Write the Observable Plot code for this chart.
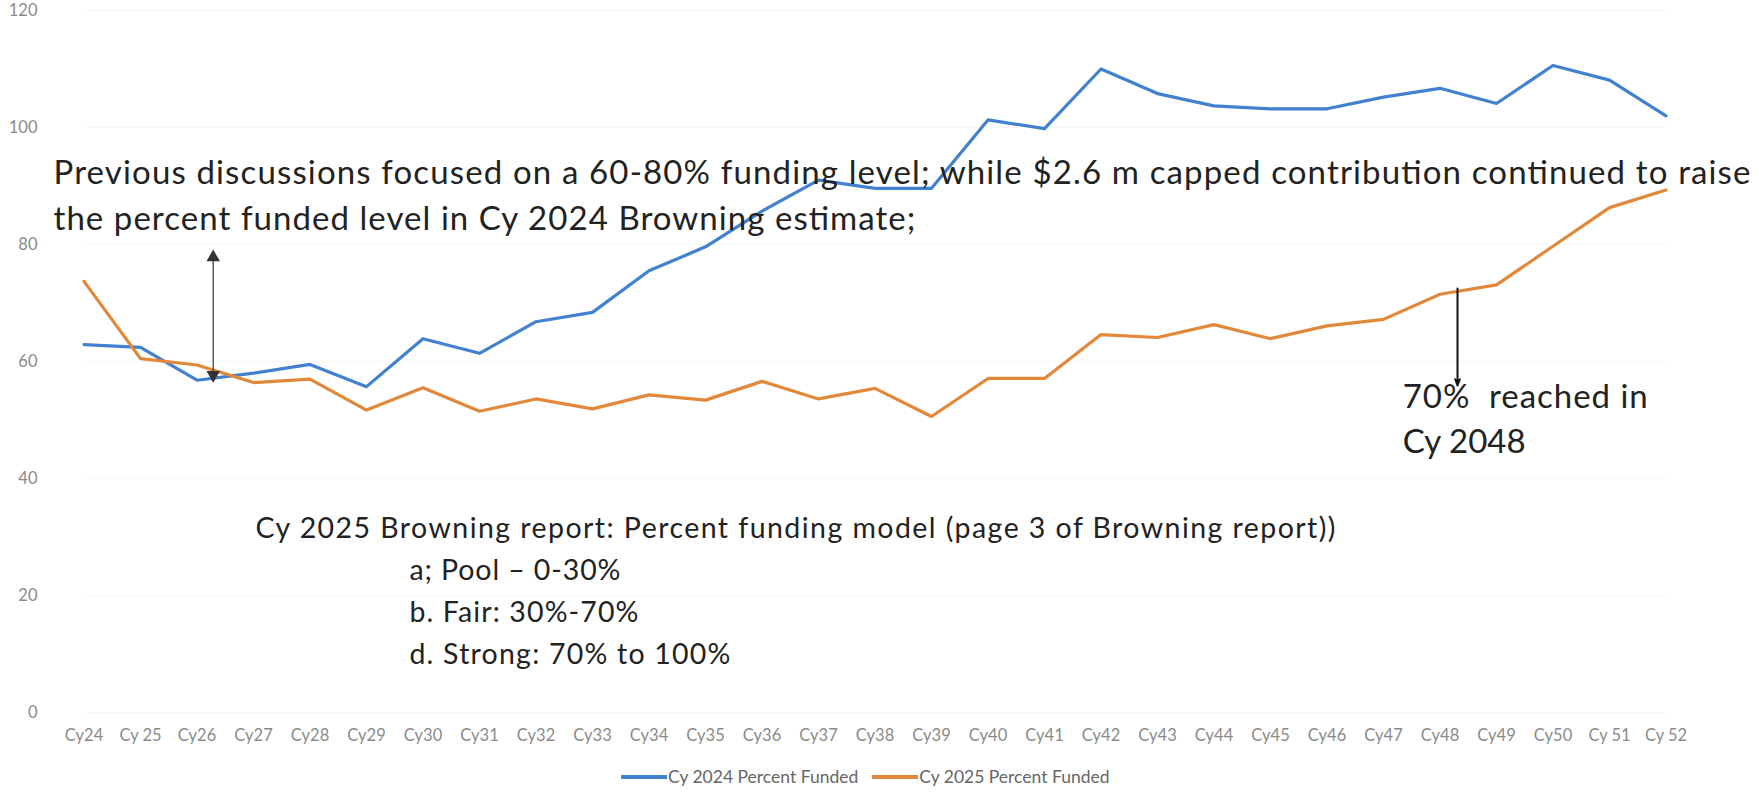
<!DOCTYPE html>
<html><head><meta charset="utf-8">
<script src="https://cdn.jsdelivr.net/npm/d3@7"></script>
<script src="https://cdn.jsdelivr.net/npm/@observablehq/plot@0.6"></script>
<style>
html,body{margin:0;padding:0;background:#fff;}
#chart svg{display:block;}
#chart svg text{white-space:pre;}
.legend{display:flex;align-items:center;height:35px;padding-left:621px;padding-bottom:2px;font-family:Lato,sans-serif;font-size:17.5px;color:#666;box-sizing:border-box;}
.item{display:flex;align-items:center;margin-right:14px;}
.sw{display:inline-block;width:46px;height:4px;margin-right:1px;}
</style></head><body>
<div id="chart"></div>
<div class="legend" id="legend"></div>
<script>
const categories = ["Cy24","Cy 25","Cy26","Cy27","Cy28","Cy29","Cy30","Cy31","Cy32","Cy33","Cy34","Cy35","Cy36","Cy37","Cy38","Cy39","Cy40","Cy41","Cy42","Cy43","Cy44","Cy45","Cy46","Cy47","Cy48","Cy49","Cy50","Cy 51","Cy 52"];
const cy2024 = [62.9,62.4,56.8,58.0,59.5,55.7,63.9,61.4,66.8,68.4,75.5,79.6,85.7,91.0,89.6,89.6,101.3,99.8,110.0,105.8,103.7,103.2,103.2,105.2,106.7,104.1,110.6,108.1,102.0];
const cy2025 = [73.7,60.5,59.4,56.4,57.0,51.7,55.5,51.5,53.6,51.9,54.3,53.4,56.6,53.6,55.4,50.6,57.1,57.1,64.6,64.1,66.3,63.9,66.1,67.2,71.5,73.1,79.7,86.3,89.3];
const yTicks = [0,20,40,60,80,100,120];
const seriesNames = ["Cy 2024 Percent Funded","Cy 2025 Percent Funded"];
const seriesColors = ["#4281cf","#e2883a"];

const topNote = ["Previous discussions focused on a 60-80% funding level; while $2.6 m capped contribution continued to raise","the percent funded level in Cy 2024 Browning estimate;"];
const modelNote = ["Cy 2025 Browning report: Percent funding model (page 3 of Browning report))","a; Pool – 0-30%","b. Fair: 30%-70%","d. Strong: 70% to 100%"];
const reachedNote = ["70%  reached in","Cy 2048"];

// annotation anchors in data units (category index, percent)
const topNoteAt = [[-0.54,90.4],[-0.54,82.4]];
const modelNoteAt = [[3.035,29.9],[5.76,22.7],[5.76,15.5],[5.76,8.3]];
const reachedNoteAt = [[23.34,52.1],[23.34,44.4]];
const rangeArrow = {x:2.287, y1:77.8, y2:57.7};
const reachedLine = {x:24.31, y1:72.5, y2:55.9};

const textWidths = new Map([
  [topNote[0],1697],[topNote[1],862],
  [modelNote[0],1080],[modelNote[1],211],[modelNote[2],229],[modelNote[3],321],
  [reachedNote[0],245],[reachedNote[1],123]
]);

const rows = categories.flatMap((c,i)=>[
  {i, v:cy2024[i], s:seriesNames[0]},
  {i, v:cy2025[i], s:seriesNames[1]}
]);
const toNotes = (texts, at) => texts.map((t,k)=>({t, x:at[k][0], y:at[k][1]}));

const plot = Plot.plot({
  width:1759, height:760,
  marginLeft:83.5, marginRight:93.5, marginTop:10, marginBottom:48,
  style:{fontFamily:"Lato, sans-serif", background:"#fff", overflow:"visible"},
  x:{type:"linear", domain:[0,categories.length-1], label:null},
  y:{domain:[0,120], label:null},
  color:{domain:seriesNames, range:seriesColors},
  marks:[
    Plot.gridY(yTicks,{stroke:"#f6f6f6", strokeOpacity:1}),
    Plot.axisY(yTicks,{tickSize:0, tickPadding:46.5, fontSize:16.5, color:"#8a8a8a", label:null}),
    Plot.axisX(d3.range(categories.length),{tickSize:0, tickPadding:17, fontSize:16.5, color:"#8a8a8a", label:null, tickFormat:i=>categories[i]}),
    Plot.line(rows,{x:"i", y:"v", z:"s", stroke:"s", strokeWidth:3.2, strokeLinejoin:"round", strokeLinecap:"round"}),
    Plot.link([rangeArrow],{x1:"x", x2:"x", y1:"y1", y2:"y2", stroke:"#444", strokeWidth:1.3}),
    Plot.dot([rangeArrow],{x:"x", y:"y1", symbol:"triangle", r:5, fill:"#333", stroke:null}),
    Plot.dot([rangeArrow],{x:"x", y:"y2", symbol:"triangle", r:5, fill:"#333", stroke:null, rotate:180}),
    Plot.arrow([reachedLine],{x1:"x", x2:"x", y1:"y1", y2:"y2", stroke:"#111", strokeWidth:2, headLength:5, headAngle:40}),
    Plot.text(toNotes(topNote, topNoteAt),{x:"x", y:"y", text:"t", textAnchor:"start", lineAnchor:"bottom", fontSize:33, fill:"#222"}),
    Plot.text(toNotes(modelNote, modelNoteAt),{x:"x", y:"y", text:"t", textAnchor:"start", lineAnchor:"bottom", fontSize:28.5, fill:"#222"}),
    Plot.text(toNotes(reachedNote, reachedNoteAt),{x:"x", y:"y", text:"t", textAnchor:"start", lineAnchor:"bottom", fontSize:33, fill:"#222"})
  ]
});
plot.querySelectorAll("text").forEach(t=>{
  const L = textWidths.get(t.textContent);
  if (L) { t.setAttribute("textLength", L); t.setAttribute("lengthAdjust","spacing"); }
});
document.getElementById("chart").appendChild(plot);

const legend = document.getElementById("legend");
seriesNames.forEach((n,k)=>{
  const it = document.createElement("span"); it.className="item";
  const sw = document.createElement("span"); sw.className="sw"; sw.style.background=seriesColors[k];
  const tx = document.createElement("span"); tx.textContent=n;
  it.appendChild(sw); it.appendChild(tx); legend.appendChild(it);
});
</script>
</body></html>
